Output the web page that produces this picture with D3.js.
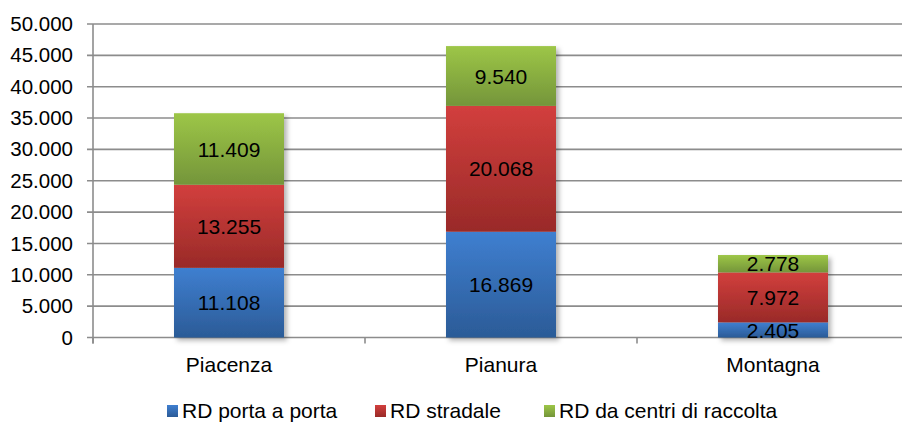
<!DOCTYPE html>
<html><head><meta charset="utf-8">
<script src="https://cdn.jsdelivr.net/npm/d3@7"></script>
<style>
html,body{margin:0;padding:0;background:#fff;overflow:hidden}
text{font-family:"Liberation Sans",Arial,sans-serif;fill:#000}
</style></head>
<body><svg id="c" width="902" height="423"></svg>
<script>
const categories = ["Piacenza", "Pianura", "Montagna"];
const seriesNames = ["RD porta a porta", "RD stradale", "RD da centri di raccolta"];
const portaAPorta = [11108, 16869, 2405];
const stradale = [13255, 20068, 7972];
const centriRaccolta = [11409, 9540, 2778];
const yTicks = [0, 5000, 10000, 15000, 20000, 25000, 30000, 35000, 40000, 45000, 50000];
const colors = [["#3f7fd0", "#2b5b97"], ["#d23f3d", "#992a28"], ["#9dc647", "#74953a"]];

const rows = categories.map((c, i) => ({cat: c, s0: portaAPorta[i], s1: stradale[i], s2: centriRaccolta[i]}));
const keys = ["s0", "s1", "s2"];
const stack = d3.stack().keys(keys)(rows);

const svg = d3.select("#c");
const defs = svg.append("defs");
colors.forEach((c, i) => {
  const g = defs.append("linearGradient").attr("id", "g" + i).attr("x1", 0).attr("y1", 0).attr("x2", 0).attr("y2", 1);
  g.append("stop").attr("offset", "0%").attr("stop-color", c[0]);
  g.append("stop").attr("offset", "100%").attr("stop-color", c[1]);
});
const f = defs.append("filter").attr("id", "sh").attr("x", "-10%").attr("y", "-10%").attr("width", "130%").attr("height", "130%");
f.append("feDropShadow").attr("dx", 3).attr("dy", 3).attr("stdDeviation", 2.5).attr("flood-color", "#000").attr("flood-opacity", 0.3);

const x0 = 93, x1 = 909;
const x = d3.scaleBand().domain(categories).range([x0, x1]).paddingInner(0).paddingOuter(0);
const y = d3.scaleLinear().domain([0, 50000]).range([337.5, 24]);
const fmt = v => d3.format(",")(v).replace(/,/g, ".");

// gridlines
svg.append("g").selectAll("line").data(yTicks).join("line")
  .attr("x1", x0 - 6).attr("x2", 902)
  .attr("y1", d => y(d)).attr("y2", d => y(d))
  .attr("stroke", "#8c8c8c").attr("stroke-width", 1.6);

// y axis
const ya = svg.append("g").attr("transform", `translate(${x0},0)`)
  .call(d3.axisLeft(y).tickValues(yTicks).tickSize(6).tickPadding(14).tickFormat(fmt));
ya.select(".domain").attr("stroke", "#8c8c8c").attr("stroke-width", 1.6).attr("d", `M0,${y(50000)}V${y(0) + 6}`);
ya.selectAll(".tick line").remove();
ya.selectAll("text").attr("font-size", 20.5).attr("font-family", "Liberation Sans, Arial, sans-serif").attr("fill", "#000");

// x axis ticks
const bounds = [x0, x(categories[1]), x(categories[2])];
svg.append("g").selectAll("line").data(bounds).join("line")
  .attr("x1", d => d).attr("x2", d => d).attr("y1", y(0)).attr("y2", y(0) + 6)
  .attr("stroke", "#8c8c8c").attr("stroke-width", 1.6);

// bars
const barW = 110;
const bars = svg.append("g").attr("filter", "url(#sh)");
stack.forEach((layer, si) => {
  bars.selectAll(null).data(layer).join("rect")
    .attr("x", d => x(d.data.cat) + x.bandwidth() / 2 - barW / 2)
    .attr("width", barW)
    .attr("y", d => y(d[1]))
    .attr("height", d => y(d[0]) - y(d[1]))
    .attr("fill", `url(#g${si})`);
});
// data labels
stack.forEach((layer, si) => {
  svg.append("g").selectAll("text").data(layer).join("text")
    .attr("x", d => x(d.data.cat) + x.bandwidth() / 2)
    .attr("y", d => (y(d[0]) + y(d[1])) / 2)
    .attr("dy", "0.36em").attr("text-anchor", "middle").attr("font-size", 21)
    .text(d => fmt(d[1] - d[0]));
});

// category labels
svg.append("g").selectAll("text").data(categories).join("text")
  .attr("x", d => x(d) + x.bandwidth() / 2).attr("y", 372)
  .attr("text-anchor", "middle").attr("font-size", 21).text(d => d);

// legend
const legX = [167, 375, 544];
const leg = svg.append("g");
seriesNames.forEach((n, i) => {
  leg.append("rect").attr("x", legX[i]).attr("y", 405).attr("width", 11).attr("height", 12).attr("fill", `url(#g${i})`);
  leg.append("text").attr("x", legX[i] + 15).attr("y", 418).attr("font-size", 21).text(n);
});
</script></body></html>
